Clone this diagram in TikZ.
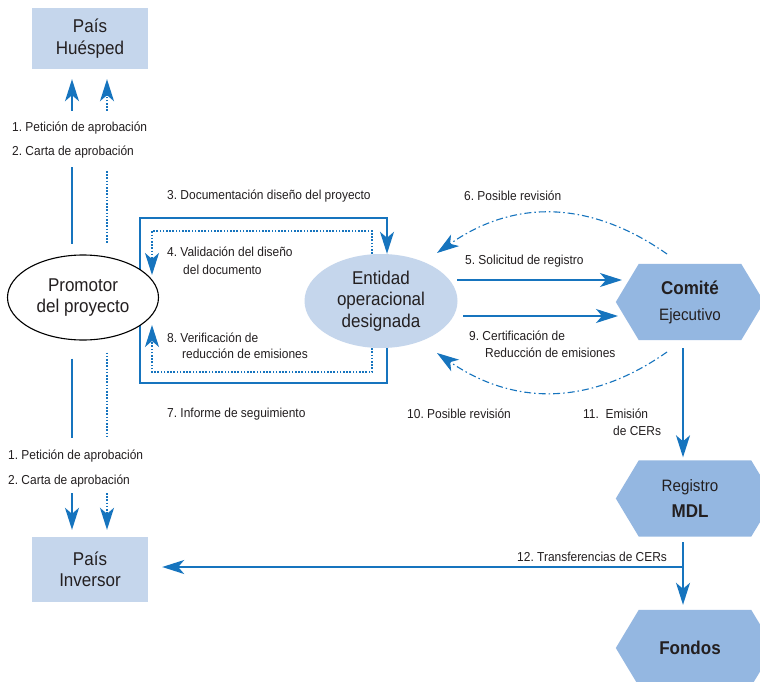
\documentclass[tikz,border=0pt]{standalone}
\usepackage{fontspec}
\setmainfont{Liberation Sans}[FakeStretch=0.92]
\usetikzlibrary{arrows.meta,shapes.geometric,backgrounds}
\definecolor{lineblue}{HTML}{1674BE}
\definecolor{lightfill}{HTML}{C5D6EC}
\definecolor{hexfill}{HTML}{94B7E1}
\definecolor{txt}{HTML}{231F20}
\frenchspacing
\tikzset{
  bigtext/.style={font=\fontsize{18.5}{21.5}\selectfont, text=txt, align=center},
  lbl/.style={font=\fontsize{13}{15}\selectfont, text=txt, anchor=base west, inner sep=0pt},
  boxnode/.style={bigtext, fill=lightfill, minimum width=116pt, inner sep=0pt},
  hexnode/.style={bigtext, minimum height=76pt, minimum width=148pt, inner sep=0pt},
  conn/.style={draw=lineblue, line width=1.5pt},
  dotconn/.style={draw=lineblue, line width=1.6pt, dash pattern=on 1.6pt off 1.6pt},
  dashdot/.style={draw=lineblue, line width=1.1pt, dash pattern=on 7pt off 3pt on 1.5pt off 3pt},
  tip/.style={-{Stealth[length=22pt,width=14pt,inset=6pt]}},
}
\begin{document}
\begin{tikzpicture}[x=1pt,y=-1pt]
\useasboundingbox (0,0) rectangle (760,682);

% nodes
\node[boxnode, minimum height=61pt] (huesped) at (90,38.5) {País\\Huésped};
\node[boxnode, minimum height=65pt] (inversor) at (90,569.5) {País\\Inversor};
\node[bigtext, ellipse, draw=black, line width=1.1pt, fill=white, minimum width=151pt, minimum height=85pt, inner sep=0pt] (promotor) at (83,297.5) {Promotor\\del proyecto};
\node[bigtext, ellipse, fill=lightfill, minimum width=153pt, minimum height=94pt, inner sep=0pt] (entidad) at (381,301) {Entidad\\operacional\\designada};
\node[hexnode] (comite) at (690,302) {\textbf{Comité}\\[4.5pt]{\fontsize{16.5}{20}\selectfont Ejecutivo}};
\node[hexnode] (registro) at (690,498.5) {{\fontsize{16.5}{20}\selectfont Registro}\\[4.5pt]\textbf{MDL}};
\node[hexnode] (fondos) at (690,648) {\textbf{Fondos}};

% background: hexagons and the 3/7 frame
\begin{scope}[on background layer]
  \fill[white] (0,0) rectangle (760,682);
  \foreach \n/\e in {comite/0,registro/10,fondos/10}
    \fill[hexfill] (\n.west) -- ([xshift=23pt]\n.north west) -- ([xshift=\e pt-23pt]\n.north east)
      -- ([xshift=\e pt]\n.east) -- ([xshift=\e pt-23pt]\n.south east) -- ([xshift=23pt]\n.south west) -- cycle;
  \draw[conn, tip] (promotor) ++(57,0) |- (387,218) -- ([xshift=6pt]entidad.north);
  \draw[conn] (promotor) ++(57,0) |- (387,383) -- ([xshift=6pt]entidad.south);
\end{scope}

% dotted 4 and 8
\coordinate (p4) at (152,275);
\coordinate (p8) at (152,325);
\draw[dotconn, tip] ([xshift=-9pt]entidad.north) |- (152,231) -- (p4);
\draw[dotconn, tip] ([xshift=-9pt]entidad.south) |- (152,372) -- (p8);

% upper approval arrows
\coordinate (u1) at (72,111);
\coordinate (u2) at (107,111);
\draw[conn, tip, shorten >=10pt] (u1) -- (u1 |- huesped.south);
\draw[dotconn, tip, shorten >=10pt] (u2) -- (u2 |- huesped.south);
\coordinate (u1b) at (72,167);
\coordinate (u2b) at (107,171);
\draw[conn, shorten >=10pt] (u1b) -- (u1b |- promotor.north);
\draw[dotconn, shorten >=10pt] (u2b) -- (u2b |- promotor.north);

% lower approval arrows
\coordinate (l1) at (72,438);
\coordinate (l2) at (107,438);
\draw[conn, shorten <=18pt] (l1 |- promotor.south) -- (l1);
\draw[dotconn, shorten <=12pt] (l2 |- promotor.south) -- (l2);
\coordinate (l1b) at (72,493);
\coordinate (l2b) at (107,493);
\draw[conn, tip, shorten >=7pt] (l1b) -- (l1b |- inversor.north);
\draw[dotconn, tip, shorten >=7pt] (l2b) -- (l2b |- inversor.north);

% entidad <-> comite
\coordinate (e5) at (457,280);
\coordinate (c5) at (622,280);
\coordinate (e9) at (463,316);
\coordinate (c9) at (618,316);
\draw[conn, tip] (e5) -- (c5);
\draw[conn, tip] (e9) -- (c9);
\coordinate (c6) at (667,254);
\coordinate (e6) at (437,253);
\coordinate (c10) at (667,352);
\coordinate (e10) at (437,353);
\draw[dashdot, tip] (c6) .. controls (590,200) and (514,199) .. (e6);
\draw[dashdot, tip] (c10) .. controls (590,406) and (514,406) .. (e10);

% comite -> registro -> fondos, transfer
\coordinate (k11) at (683,348);
\draw[conn, tip, shorten >=3pt] (k11) -- (k11 |- registro.north);
\coordinate (k12) at (683,542);
\draw[conn, tip, shorten >=5pt] (k12) -- (k12 |- fondos.north);
\coordinate (k13) at (683,567);
\draw[conn, tip, shorten >=14pt] (k13) -- (k13 -| inversor.east);

% labels
\node[lbl] (t1a) at (12,131.5) {1. Petición de aprobación};
\node[lbl] (t2a) at (12,155.5) {2. Carta de aprobación};
\node[lbl] (t1b) at (8,459.5) {1. Petición de aprobación};
\node[lbl] (t2b) at (8,484.5) {2. Carta de aprobación};
\node[lbl] (t3) at (167,199.5) {3. Documentación diseño del proyecto};
\node[lbl] (t4a) at (167,256) {4. Validación del diseño};
\node[lbl] (t4b) at (183,274) {del documento};
\node[lbl] (t8a) at (167,342) {8. Verificación de};
\node[lbl] (t8b) at (182,358.5) {reducción de emisiones};
\node[lbl] (t7) at (167,417.5) {7. Informe de seguimiento};
\node[lbl] (t6) at (464,200) {6. Posible revisión};
\node[lbl] (t5) at (465,264) {5. Solicitud de registro};
\node[lbl] (t9a) at (469,340.5) {9. Certificación de};
\node[lbl] (t9b) at (485,357) {Reducción de emisiones};
\node[lbl] (t10) at (407,418) {10. Posible revisión};
\node[lbl] (t11a) at (583,418) {11.\ \ Emisión};
\node[lbl] (t11b) at (613,435) {de CERs};
\node[lbl] (t12) at (517,561) {12. Transferencias de CERs};
\end{tikzpicture}
\end{document}
